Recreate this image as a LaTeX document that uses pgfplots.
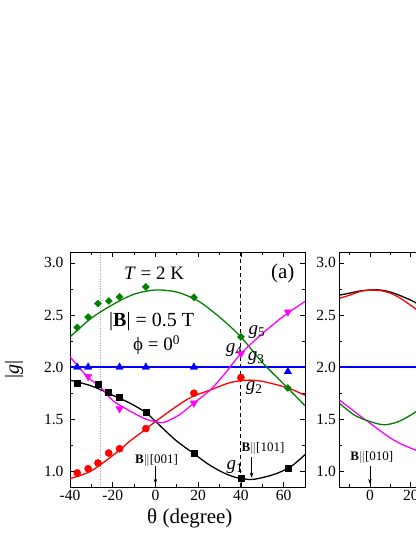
\documentclass[border=0pt]{standalone}
\usepackage{fontspec}
\setmainfont{Liberation Serif}
\usepackage{pgfplots}
\pgfplotsset{compat=1.18}
\usetikzlibrary{arrows.meta}

\definecolor{cgreen}{RGB}{0,128,0}
\definecolor{cmag}{RGB}{255,0,255}
\newcommand{\fs}[1]{\fontsize{#1}{#1}\selectfont}

\pgfplotsset{
  panel/.style={
    scale only axis, width=235pt, height=234.5pt,
    anchor=south west,
    ymin=0.85, ymax=3.1,
    ytick={1,1.5,2,2.5,3},
    minor ytick={1.25,1.75,2.25,2.75},
    yticklabel style={/pgf/number format/fixed,/pgf/number format/fixed zerofill,/pgf/number format/precision=1},
    tick align=inside, tick pos=both,
    xticklabel pos=bottom, yticklabel pos=left,
    major tick length=5pt, minor tick length=3pt,
    every tick/.style={black, line width=0.8pt},
    axis line style={line width=0.9pt},
    tick label style={font=\fs{15.5}},
    /pgf/number format/assume math mode=true,
    curve/.style={line width=1.3pt, smooth, no marks},
  },
}

\begin{document}
\begin{tikzpicture}
% ---- panel (a)
\begin{axis}[panel, at={(70pt,50pt)},
  xmin=-40, xmax=70,
  xtick={-40,-20,0,20,40,60},
  minor xtick={-30,-10,10,30,50,70},
  xlabel={θ (degree)}, ylabel={|\textit{g}|},
  xlabel style={font=\fs{21}, at={(axis description cs:0.51,-0.132)}, anchor=center},
  ylabel style={font=\fs{20}, at={(axis description cs:-0.238,0.5)}, anchor=center},
  yticklabel style={xshift=-3pt},
]
\draw[gray!70, line width=0.8pt, dash pattern=on 1pt off 1.2pt] (axis cs:-26,0.85) -- (axis cs:-26,3.1);
\draw[black, line width=0.9pt, dash pattern=on 4pt off 3pt] (axis cs:40,0.85) -- (axis cs:40,3.1);

\addplot[blue, line width=1.3pt] coordinates {(-40,2) (70,2)};
% g5 green
\addplot[cgreen, curve] coordinates {
 (-40,2.29) (-30,2.47) (-20,2.60) (-10,2.70) (0,2.74) (10,2.72) (20,2.635)
 (30,2.48) (40,2.29) (50,2.045) (60,1.84) (70,1.63)};
% g1 black
\addplot[black, curve] coordinates {
 (-40,1.875) (-30,1.82) (-20,1.73) (-12,1.655) (-4.5,1.565) (0,1.48) (9.4,1.30)
 (18,1.17) (25,1.065) (32,0.985) (38,0.94) (45,0.922) (52,0.95) (58,0.99)
 (64,1.055) (70,1.16)};
% g2 red
\addplot[red, curve] coordinates {
 (-40,0.93) (-30,1.005) (-17,1.20) (-12,1.29) (-4.5,1.405) (0,1.478) (11,1.64)
 (17.6,1.72) (25.6,1.78) (34,1.846) (40,1.87) (45,1.875) (51,1.86) (62,1.80) (70,1.73)};
% g4 magenta
\addplot[cmag, curve] coordinates {
 (-40,2.10) (-31.5,1.90) (-26,1.815) (-20,1.68) (-12,1.58) (-5,1.505) (0,1.478)
 (4,1.47) (11,1.54) (18,1.655) (25.6,1.78) (32.6,1.94) (40,2.13) (50,2.32)
 (60,2.49) (70,2.63)};

% data points
\addplot[only marks, mark=square*, mark size=2.5pt, mark options={rotate=45}, color=cgreen] coordinates {
 (-36.6,2.38) (-31.5,2.48) (-26.9,2.61) (-21.8,2.635) (-16.8,2.675) (-4.5,2.77)
 (18,2.67) (40,2.29) (62,1.80)};
\addplot[only marks, mark=square*, mark size=3pt, color=black] coordinates {
 (-36.6,1.85) (-26.9,1.84) (-21.9,1.756) (-16.8,1.71) (-4.5,1.565) (18,1.176)
 (40,0.93) (62,1.026)};
\addplot[only marks, mark=*, mark size=3.6pt, color=red] coordinates {
 (-36.6,0.985) (-31.5,1.025) (-26.9,1.08) (-21.9,1.176) (-16.8,1.217) (-4.5,1.41)
 (18,1.75) (40,1.90)};
\addplot[only marks, mark=triangle*, mark size=4.3pt, mark options={rotate=180}, color=cmag] coordinates {
 (-31.5,1.91) (-16.8,1.60) (18,1.655) (40,2.13) (62,2.53)};
\addplot[only marks, mark=triangle*, mark size=4.3pt, color=blue] coordinates {
 (-36.6,2.0) (-31.5,2.0) (-16.8,2.0) (-4.5,2.0) (18,2.0) (62,1.957)};

% annotations
\node[font=\fs{19}] at (axis cs:-0.6,2.904) {\textit{T} = 2 K};
\node[font=\fs{20}] at (axis cs:-1.8,2.435) {|\textbf{B}| = 0.5 T};
\node[font=\fs{19}] at (axis cs:0.5,2.21) {ϕ = 0\textsuperscript{0}};
\node[font=\fs{21}] at (axis cs:59.6,2.90) {(a)};
\node[font=\fs{19}] at (axis cs:47.5,2.34) {\textit{g}\textsubscript{5}};
\node[font=\fs{19}] at (axis cs:36.9,2.165) {\textit{g}\textsubscript{4}};
\node[font=\fs{19}] at (axis cs:47.1,2.09) {\textit{g}\textsubscript{3}};
\node[font=\fs{19}] at (axis cs:46.2,1.80) {\textit{g}\textsubscript{2}};
\node[font=\fs{19}] at (axis cs:37.2,1.04) {\textit{g}\textsubscript{1}};
\node[font=\fs{13}] at (axis cs:50.3,1.22) {\textbf{B}$\|$[101]};
\draw[-{Stealth[length=5pt,width=3.5pt]}, line width=0.7pt] (axis cs:45,1.14) -- (axis cs:45,0.94);
\node[font=\fs{13}] at (axis cs:0.5,1.10) {\textbf{B}$\|$[001]};
\draw[-{Stealth[length=5pt,width=3.5pt]}, line width=0.7pt] (axis cs:0,1.048) -- (axis cs:0,0.88);
\end{axis}

% ---- panel (b), cut at the right edge
\begin{axis}[panel, at={(339.3pt,50pt)},
  xmin=-15, xmax=100,
  xtick={0,20,40,60,80,100},
  minor xtick={-10,10,30,50,70,90},
]
\addplot[blue, line width=1.3pt] coordinates {(-15,2) (100,2)};
\addplot[black, curve] coordinates {
 (-15,2.69) (-10,2.71) (-5,2.73) (0,2.74) (5,2.74) (10,2.72) (15,2.685) (21.6,2.627) (26,2.57)};
\addplot[red, curve] coordinates {
 (-15,2.66) (-10,2.69) (-5,2.725) (0,2.74) (5,2.735) (10,2.71) (15,2.66) (21.6,2.57) (26,2.50)};
\addplot[cmag, curve] coordinates {
 (-15,1.686) (-10,1.61) (-5,1.535) (0,1.463) (5,1.39) (10,1.32) (15,1.265) (21.6,1.21) (26,1.175)};
\addplot[cgreen, curve] coordinates {
 (-15,1.655) (-7.6,1.54) (0,1.478) (7,1.447) (14,1.478) (21.6,1.56) (26,1.63)};
\node[font=\fs{13}] at (axis cs:0.9,1.136) {\textbf{B}$\|$[010]};
\draw[-{Stealth[length=5pt,width=3.5pt]}, line width=0.7pt] (axis cs:0,1.055) -- (axis cs:0,0.88);
\end{axis}

\pgfresetboundingbox
\path[use as bounding box] (0,0) rectangle (415pt,537pt);
\end{tikzpicture}
\end{document}
